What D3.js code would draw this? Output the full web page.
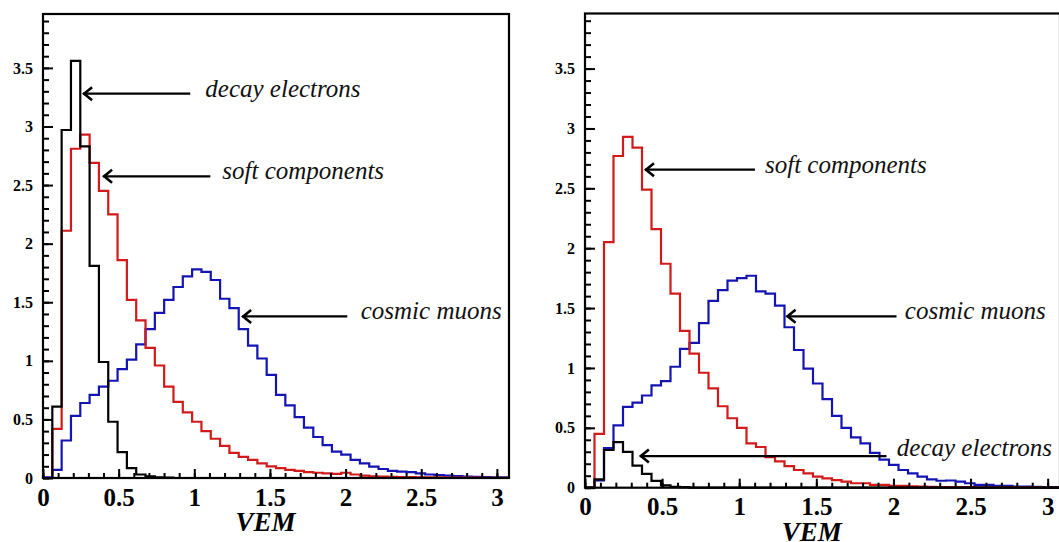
<!DOCTYPE html>
<html>
<head>
<meta charset="utf-8">
<script src="https://cdn.jsdelivr.net/npm/d3@7"></script>
<style>
  body { margin: 0; background: #fff; }
  svg { display: block; }
</style>
</head>
<body>
<svg id="chart" width="1059" height="542"></svg>
<script>
// 50 bins, 0 .. 3.08 VEM
const binWidth = 0.0616;

const leftMuons = [0.005, 0.07, 0.32, 0.53, 0.64, 0.71, 0.78, 0.83, 0.93, 1.01,
  1.14, 1.27, 1.41, 1.52, 1.63, 1.72, 1.78, 1.76, 1.69, 1.53,
  1.45, 1.27, 1.13, 1.02, 0.88, 0.71, 0.62, 0.52, 0.43, 0.35,
  0.28, 0.225, 0.2, 0.155, 0.125, 0.097, 0.077, 0.06, 0.055, 0.05,
  0.04, 0.03, 0.025, 0.02, 0.017, 0.013, 0.01, 0.008, 0.006, 0.005];
const leftSoft = [0, 0.42, 2.11, 2.81, 2.93, 2.69, 2.45, 2.25, 1.86, 1.52,
  1.345, 1.11, 0.96, 0.78, 0.65, 0.56, 0.48, 0.4, 0.335, 0.275,
  0.215, 0.18, 0.155, 0.125, 0.1, 0.085, 0.07, 0.06, 0.05, 0.045,
  0.04, 0.035, 0.045, 0.03, 0.02, 0.015, 0.012, 0.01, 0.008, 0.008,
  0.006, 0.005, 0.005, 0.004, 0.004, 0.003, 0.003, 0.002, 0.002, 0.002];
const leftElectrons = [0, 0.61, 2.97, 3.56, 2.83, 1.81, 0.99, 0.48, 0.22, 0.085,
  0.03, 0.015, 0.006, 0.003, 0, 0, 0, 0, 0, 0,
  0, 0, 0, 0, 0, 0, 0, 0, 0, 0,
  0, 0, 0, 0, 0, 0, 0, 0, 0, 0,
  0, 0, 0, 0, 0, 0, 0, 0, 0, 0];

const rightMuons = [0, 0.06, 0.33, 0.52, 0.675, 0.71, 0.77, 0.855, 0.89, 1.01,
  1.16, 1.21, 1.375, 1.56, 1.65, 1.73, 1.75, 1.77, 1.64, 1.62,
  1.52, 1.34, 1.15, 0.995, 0.87, 0.74, 0.6, 0.5, 0.42, 0.37,
  0.29, 0.235, 0.19, 0.148, 0.12, 0.092, 0.07, 0.058, 0.06, 0.05,
  0.037, 0.023, 0.023, 0.015, 0.015, 0.01, 0.01, 0.008, 0.006, 0.005];
const rightSoft = [0, 0.45, 2.05, 2.77, 2.93, 2.84, 2.49, 2.16, 1.87, 1.62,
  1.31, 1.12, 0.96, 0.83, 0.68, 0.58, 0.5, 0.37, 0.34, 0.255,
  0.22, 0.18, 0.148, 0.12, 0.092, 0.078, 0.064, 0.05, 0.037, 0.037,
  0.023, 0.023, 0.015, 0.015, 0.012, 0.01, 0.008, 0.006, 0.005, 0.004,
  0.004, 0.003, 0.003, 0.003, 0.002, 0.002, 0.002, 0.002, 0.001, 0.001];
const rightElectrons = [0, 0.07, 0.315, 0.38, 0.3, 0.185, 0.115, 0.057, 0.02, 0.008,
  0.004, 0, 0, 0, 0, 0, 0, 0, 0, 0,
  0, 0, 0, 0, 0, 0, 0, 0, 0, 0,
  0, 0, 0, 0, 0, 0, 0, 0, 0, 0,
  0, 0, 0, 0, 0, 0, 0, 0, 0, 0];

const xTickLabels = [0, 0.5, 1, 1.5, 2, 2.5, 3];
const yTickLabels = [0, 0.5, 1, 1.5, 2, 2.5, 3, 3.5];
const xMinorTicks = d3.range(0, 31).map(d => d / 10);
const yMinorTicks = d3.range(0, 40).map(d => d / 10);

// annotations in data units: arrow tip, arrow tail, text start
const leftNotes = [
  {label: "decay electrons", tipX: 0.265, tipY: 3.28, tailX: 0.973, textX: 1.073, dy: 3},
  {label: "soft components", tipX: 0.397, tipY: 2.575, tailX: 1.106, textX: 1.185, dy: 3},
  {label: "cosmic muons", tipX: 1.316, tipY: 1.379, tailX: 2.011, textX: 2.1, dy: 3}
];
const rightNotes = [
  {label: "soft components", tipX: 0.389, tipY: 2.656, tailX: 1.102, textX: 1.167, dy: 3},
  {label: "cosmic muons", tipX: 1.307, tipY: 1.431, tailX: 2.02, textX: 2.074, dy: 3},
  {label: "decay electrons", tipX: 0.356, tipY: 0.264, tailX: 1.955, textX: 2.022, dy: 0}
];

const colors = {muons: "#1414b4", soft: "#d21a1a", electrons: "#000"};
const serif = "'Liberation Serif', 'Times New Roman', Times, serif";

const svg = d3.select("#chart");

function histPanel(box, series, notes) {
  let g = svg.append("g");
  let x = d3.scaleLinear().domain([0, 3.08]).range([box.left, box.right]);
  let y = d3.scaleLinear().domain([0, 3.96]).range([box.bottom, box.top]);

  let line = d3.line().x(d => x(d[0])).y(d => y(d[1]));

  series.forEach(s => {
    let pts = [[0, 0]];
    s.values.forEach((v, i) => {
      pts.push([i * binWidth, v]);
      pts.push([(i + 1) * binWidth, v]);
    });
    pts.push([s.values.length * binWidth, 0]);
    g.append("path")
      .attr("d", line(pts))
      .attr("fill", "none")
      .attr("stroke", s.color)
      .attr("stroke-width", 2.2);
  });

  // ticks pointing inwards
  let yMinor = g.append("g").attr("transform", `translate(${box.left},0)`)
    .call(d3.axisRight(y).tickValues(yMinorTicks).tickSize(6).tickFormat(""));
  let yMajor = g.append("g").attr("transform", `translate(${box.left},0)`)
    .call(d3.axisRight(y).tickValues(yTickLabels).tickSize(10).tickFormat(""));
  let yLab = g.append("g").attr("transform", `translate(${box.left},0)`)
    .call(d3.axisLeft(y).tickValues(yTickLabels).tickSize(0).tickPadding(10).tickFormat(d3.format("")));
  yLab.selectAll("text").style("font-size", "16px");

  let xMinor = g.append("g").attr("transform", `translate(0,${box.bottom})`)
    .call(d3.axisTop(x).tickValues(xMinorTicks).tickSize(5).tickFormat(""));
  let xMajor = g.append("g").attr("transform", `translate(0,${box.bottom})`)
    .call(d3.axisTop(x).tickValues(xTickLabels).tickSize(9).tickFormat(""));
  let xLab = g.append("g").attr("transform", `translate(0,${box.bottom})`)
    .call(d3.axisBottom(x).tickValues(xTickLabels).tickSize(0).tickPadding(10).tickFormat(d3.format("")));
  xLab.selectAll("text").style("font-size", "25px");

  [yMinor, yMajor, yLab, xMinor, xMajor, xLab].forEach(a => {
    a.attr("font-family", null);
    a.select(".domain").remove();
    a.selectAll("line").attr("stroke", "#000").attr("stroke-width", 2);
    a.selectAll("text")
      .style("font-family", serif)
      .style("font-weight", "bold")
      .attr("fill", "#000");
  });

  g.append("rect")
    .attr("x", box.left).attr("y", box.top)
    .attr("width", box.right - box.left).attr("height", box.bottom - box.top)
    .attr("fill", "none").attr("stroke", "#000").attr("stroke-width", 2.2);

  g.append("text")
    .attr("x", x(1.47)).attr("y", box.bottom + 53)
    .attr("text-anchor", "middle")
    .style("font-family", serif)
    .style("font-style", "italic")
    .style("font-weight", "bold")
    .style("font-size", "27px")
    .text("VEM");

  notes.forEach(n => {
    let tx = x(n.tipX), ty = y(n.tipY);
    g.append("line")
      .attr("x1", tx).attr("y1", ty).attr("x2", x(n.tailX)).attr("y2", ty)
      .attr("stroke", "#000").attr("stroke-width", 2.2);
    g.append("path")
      .attr("d", `M${tx + 9},${ty - 6.5}L${tx + 1},${ty}L${tx + 9},${ty + 6.5}`)
      .attr("fill", "none").attr("stroke", "#000").attr("stroke-width", 2.6);
    g.append("text")
      .attr("x", x(n.textX)).attr("y", ty + n.dy)
      .style("font-family", serif)
      .style("font-style", "italic")
      .style("font-size", "25px")
      .attr("fill", "#111")
      .text(n.label);
  });
}

histPanel({left: 43, top: 14, right: 509, bottom: 478}, [
  {values: leftMuons, color: colors.muons},
  {values: leftSoft, color: colors.soft},
  {values: leftElectrons, color: colors.electrons}
], leftNotes);

histPanel({left: 585, top: 13.5, right: 1060, bottom: 487.7}, [
  {values: rightMuons, color: colors.muons},
  {values: rightSoft, color: colors.soft},
  {values: rightElectrons, color: colors.electrons}
], rightNotes);
</script>
</body>
</html>
